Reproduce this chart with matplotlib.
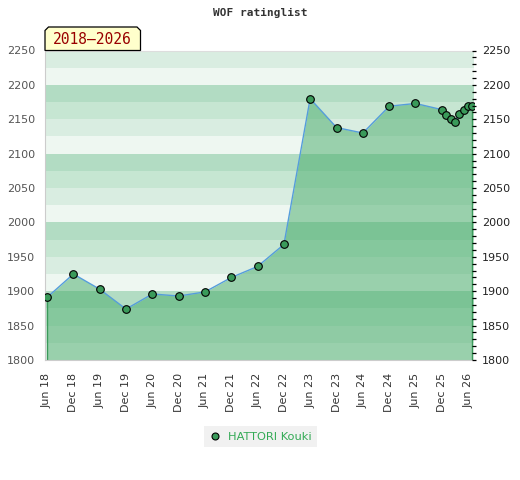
import numpy as np
import pandas as pd
import matplotlib
matplotlib.use('Agg')
import matplotlib.pyplot as plt
import matplotlib.dates as mdates
from matplotlib.patches import Polygon
from matplotlib.lines import Line2D
from matplotlib.ticker import MultipleLocator

# rating history
dates = ['2018-06-01', '2018-12-01', '2019-06-01', '2019-12-01', '2020-06-01',
         '2020-12-01', '2021-06-01', '2021-12-01', '2022-06-01', '2022-12-01',
         '2023-06-01', '2023-12-01', '2024-06-01', '2024-12-01', '2025-06-01',
         '2025-12-01', '2026-01-01', '2026-02-01', '2026-03-01', '2026-04-01',
         '2026-05-01', '2026-06-01', '2026-07-01']
ratings = [1891, 1925, 1903, 1874, 1896, 1893, 1899, 1920, 1936, 1968,
           2180, 2138, 2130, 2169, 2173, 2164, 2156, 2151, 2146, 2158,
           2163, 2170, 2170]
player = 'HATTORI Kouki'
title = 'WOF ratinglist'
period = '2018\u20132026'

y_min, y_max = 1800, 2250
band_colors = ['#eef7f1', '#d9ede1', '#c6e6d2', '#b2dcc3']

W, H = 520, 480
fig = plt.figure(figsize=(W / 100, H / 100), dpi=100)
ax = fig.add_axes([45 / W, 1 - 360 / H, 429 / W, 309.5 / H])

x = pd.to_datetime(dates)

# striped background, 25 points per band
for lo in range(y_min, y_max, 25):
    ax.axhspan(lo, lo + 25, color=band_colors[(lo % 100) // 25], lw=0, zorder=0)

ax.fill_between(x, ratings, y_min, color='#46ab69', alpha=0.5, lw=0, zorder=1)
ax.vlines([x[0], x[-1]], y_min, [ratings[0], ratings[-1]], color='#3a9a5a', lw=1, zorder=2)
ax.plot(x, ratings, color='#559ddb', lw=1, zorder=3)
ax.plot(x, ratings, 'o', ms=5.5, mfc='#3a9a5a', mec='black', mew=0.8, zorder=4)

ax.set_xlim(pd.Timestamp('2018-05-18'), pd.Timestamp('2026-07-12'))
ax.set_ylim(y_min, y_max)

ax.xaxis.set_major_locator(mdates.MonthLocator(bymonth=[6, 12]))
ax.xaxis.set_major_formatter(mdates.DateFormatter('%b %y'))
ax.tick_params(axis='x', length=0, pad=9, labelsize=8, labelcolor='#333333', labelrotation=90)
ax.yaxis.set_major_locator(MultipleLocator(50))
ax.tick_params(axis='y', length=0, pad=7, labelsize=8, labelcolor='#555555')

for s in ['left', 'bottom']:
    ax.spines[s].set_color('#cccccc')
ax.spines['top'].set_color('#dddddd')
ax.spines['right'].set_visible(False)

ax2 = ax.twinx()
ax2.set_ylim(y_min, y_max)
ax2.yaxis.set_major_locator(MultipleLocator(50))
ax2.yaxis.set_minor_locator(MultipleLocator(10))
ax2.tick_params(axis='y', which='both', direction='inout', length=3.5, width=0.9,
                pad=4, labelsize=8, labelcolor='#222222', color='black')
for s in ax2.spines.values():
    s.set_visible(False)

fig.text(260 / W, 1 - 13 / H, title, ha='center', va='center', fontsize=8,
         family='DejaVu Sans Mono', fontweight='bold', color='#333333')

# period label with chamfered top corners
bx0, bx1, by0, by1, c = 45, 140.5, 27, 50.5, 3.5
pts = [(bx0, by1), (bx0, by0 + c), (bx0 + c, by0), (bx1 - c, by0), (bx1, by0 + c), (bx1, by1)]
fig.patches.append(Polygon([(px / W, 1 - py / H) for px, py in pts], closed=True,
                           transform=fig.transFigure, facecolor='#ffffcc',
                           edgecolor='black', lw=0.9, zorder=5))
fig.text((bx0 + bx1) / 2 / W, 1 - 39.5 / H, period, ha='center', va='center',
         fontsize=10.5, family='DejaVu Sans Mono', color='#990000', zorder=6)

handle = Line2D([], [], ls='none', marker='o', ms=5, mfc='#3a9a5a', mec='black', mew=0.8)
leg = fig.legend([handle], [player], loc='center', bbox_to_anchor=(260.5 / W, 1 - 436.5 / H),
                 frameon=True, fancybox=False, facecolor='#eeeeee', edgecolor='none',
                 fontsize=8.2, handlelength=1, handletextpad=0.7, borderpad=0.45,
                 borderaxespad=0)
for t in leg.get_texts():
    t.set_color('#33aa55')

fig.savefig('out.png', dpi=100)
